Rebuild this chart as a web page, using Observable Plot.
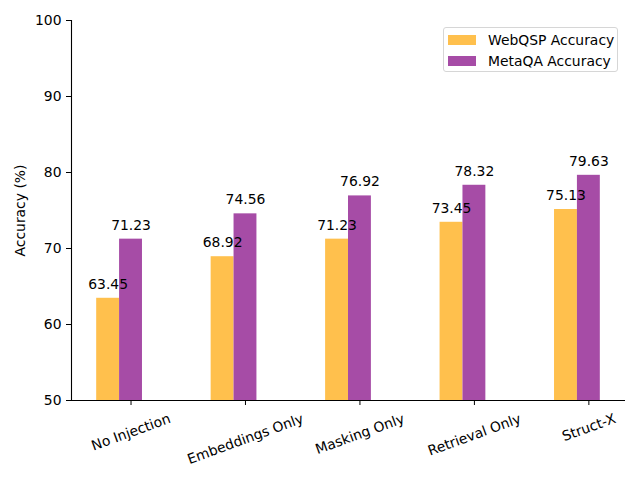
<!DOCTYPE html>
<html>
<head>
<meta charset="utf-8">
<script src="https://cdn.jsdelivr.net/npm/d3@7"></script>
<script src="https://cdn.jsdelivr.net/npm/@observablehq/plot@0.6"></script>
<style>
  body { margin: 0; background: #fff; }
  #wrap { position: relative; width: 640px; height: 480px; font-family: "DejaVu Sans", sans-serif; }
  #legend { position: absolute; left: 443px; top: 27px; width: 173px; height: 43px;
            border: 1px solid #d6d6d6; border-radius: 3px; background: rgba(255,255,255,0.8);
            font-size: 13.9px; color: #000; }
  .item { position: absolute; left: 4px; height: 14px; display: flex; align-items: center; }
  .sw { width: 28px; height: 10px; margin-right: 12px; }
</style>
</head>
<body>
<div id="wrap"></div>
<script>
const categories = ["No Injection", "Embeddings Only", "Masking Only", "Retrieval Only", "Struct-X"];
const webqsp = [63.45, 68.92, 71.23, 73.45, 75.13];
const metaqa = [71.23, 74.56, 76.92, 78.32, 79.63];
const seriesNames = ["WebQSP Accuracy", "MetaQA Accuracy"];
const colors = ["#FFC04D", "#A64CA6"];
const yTicks = [50, 60, 70, 80, 90, 100];
const yLabel = "Accuracy (%)";

const barWidth = 0.2;
const offsets = [-0.2, 0];
const rows = categories.flatMap((c, i) => [
  {i, s: 0, v: webqsp[i]},
  {i, s: 1, v: metaqa[i]}
]);
const lo = offsets[0] - barWidth / 2;
const hi = categories.length - 1 + offsets[1] + barWidth / 2;
const pad = 0.05 * (hi - lo);
const xDomain = [lo - pad, hi + pad];

const FS = 13.9;
const font = `${FS}px "DejaVu Sans"`;
const ctx = document.createElement("canvas").getContext("2d");
ctx.font = font;
const rad = 20 * Math.PI / 180;

const xAxes = categories.map((c, i) => {
  const w = ctx.measureText(c).width;
  const hBox = Math.sin(rad) * w + Math.cos(rad) * FS * 1.17;
  return Plot.axisX({
    ticks: [i],
    tickFormat: () => c,
    tickSize: 5,
    tickPadding: 5 + hBox / 2,
    tickRotate: -20,
    textAnchor: "middle",
    lineAnchor: "middle",
    fill: "black",
    label: null
  });
});

const chart = Plot.plot({
  width: 640,
  height: 480,
  marginLeft: 71,
  marginRight: 15,
  marginTop: 20,
  marginBottom: 80,
  style: {fontFamily: '"DejaVu Sans", sans-serif', fontSize: FS + "px", color: "black", background: "white"},
  x: {type: "linear", domain: xDomain},
  y: {domain: [50, 100]},
  color: {type: "ordinal", domain: [0, 1], range: colors},
  marks: [
    Plot.rectY(rows, {
      x1: d => d.i + offsets[d.s] - barWidth / 2,
      x2: d => d.i + offsets[d.s] + barWidth / 2,
      y1: 50, y2: "v", fill: "s"
    }),
    Plot.text(rows, {
      x: d => d.i + offsets[d.s], y: "v", text: d => d.v.toFixed(2),
      dy: -14, lineAnchor: "middle", fill: "black"
    }),
    Plot.ruleY([50], {stroke: "black", strokeWidth: 1.1}),
    Plot.ruleX([xDomain[0]], {stroke: "black", strokeWidth: 1.1}),
    Plot.axisY({ticks: yTicks, tickSize: 5, tickPadding: 5, label: null, fill: "black"}),
    Plot.text([yLabel], {text: d => d, frameAnchor: "left", rotate: -90, dx: -51, textAnchor: "middle", lineAnchor: "middle", fill: "black"}),
    ...xAxes
  ]
});
const wrap = document.getElementById("wrap");
wrap.appendChild(chart);

const legend = document.createElement("div");
legend.id = "legend";
seriesNames.forEach((n, k) => {
  const it = document.createElement("div");
  it.className = "item";
  it.style.top = (k === 0 ? 5 : 26) + "px";
  const sw = document.createElement("div");
  sw.className = "sw";
  sw.style.background = colors[k];
  it.appendChild(sw);
  const t = document.createElement("span");
  t.textContent = n;
  it.appendChild(t);
  legend.appendChild(it);
});
wrap.appendChild(legend);
</script>
</body>
</html>
